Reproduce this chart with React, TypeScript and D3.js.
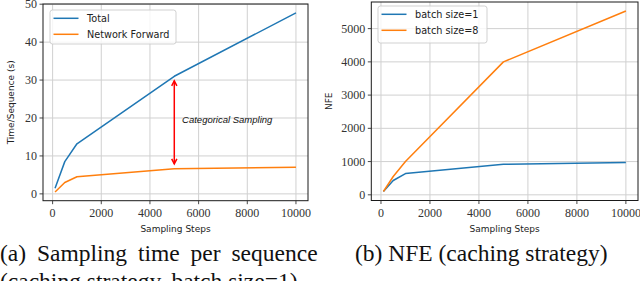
import React from "react";
import * as d3 from "d3";

// ---------- data ----------
const steps = [100, 500, 1000, 5000, 10000];
const totalTime = [1.5, 8.5, 13.2, 31.0, 47.7];
const forwardTime = [0.5, 3.0, 4.5, 6.6, 7.0];
const nfeBatch1 = [100, 430, 640, 920, 970];
const nfeBatch8 = [100, 550, 1000, 4000, 5530];

const xTicks = [0, 2000, 4000, 6000, 8000, 10000];
const yTicksA = [0, 10, 20, 30, 40, 50];
const yTicksB = [0, 1000, 2000, 3000, 4000, 5000];

const arrowX = 5000;
const arrowTop = 29.8;
const arrowBottom = 7.9;
const annotationText = "Categorical Sampling";
const annotationPos = [5320, 19.5];

const legendA = ["Total", "Network Forward"];
const legendB = ["batch size=1", "batch size=8"];
const captionA = ["(a) Sampling time per sequence", "(caching strategy, batch size=1)"];
const captionB = "(b) NFE (caching strategy)";

const C1 = "#1f77b4";
const C2 = "#ff7f0e";
const TICK_FONT = "'Liberation Serif', 'DejaVu Serif', serif";
const SANS = "'DejaVu Sans', sans-serif";

type Series = { values: number[]; color: string; label: string };

function Panel(props: {
  x0: number; x1: number; y0: number; y1: number;
  xDomain: [number, number]; yDomain: [number, number];
  yTicks: number[]; series: Series[]; ylabel: string; ylabelX: number;
  legend: { x: number; y: number; w: number; h: number };
  children?: (x: d3.ScaleLinear<number, number>, y: d3.ScaleLinear<number, number>) => React.ReactNode;
}) {
  const { x0, x1, y0, y1 } = props;
  const x = d3.scaleLinear().domain(props.xDomain).range([x0, x1]);
  const y = d3.scaleLinear().domain(props.yDomain).range([y1, y0]);
  const line = (vals: number[]) =>
    d3.line<number>().x((_, i) => x(steps[i])).y((v) => y(v))(vals) || "";
  const lg = props.legend;
  return (
    <g>
      {/* grid */}
      {xTicks.map((t) => (
        <line key={"gx" + t} x1={x(t)} x2={x(t)} y1={y0} y2={y1} stroke="#d0d0d0" strokeWidth={1} />
      ))}
      {props.yTicks.map((t) => (
        <line key={"gy" + t} x1={x0} x2={x1} y1={y(t)} y2={y(t)} stroke="#d0d0d0" strokeWidth={1} />
      ))}
      {/* series */}
      {props.series.map((s) => (
        <path key={s.label} d={line(s.values)} fill="none" stroke={s.color} strokeWidth={1.5} strokeLinejoin="round" />
      ))}
      {props.children && props.children(x, y)}
      {/* frame */}
      <rect x={x0} y={y0} width={x1 - x0} height={y1 - y0} fill="none" stroke="#1a1a1a" strokeWidth={1} />
      {/* x ticks */}
      {xTicks.map((t) => (
        <g key={"xt" + t}>
          <line x1={x(t)} x2={x(t)} y1={y1} y2={y1 + 3.5} stroke="#333" strokeWidth={0.9} />
          <text x={x(t)} y={y1 + 16.5} textAnchor="middle" fontFamily={TICK_FONT} fontSize={12} fill="#333">
            {t}
          </text>
        </g>
      ))}
      {/* y ticks */}
      {props.yTicks.map((t) => (
        <g key={"yt" + t}>
          <line x1={x0 - 3.5} x2={x0} y1={y(t)} y2={y(t)} stroke="#333" strokeWidth={0.9} />
          <text x={x0 - 6} y={y(t)} dy="0.33em" textAnchor="end" fontFamily={TICK_FONT} fontSize={12} fill="#333">
            {t}
          </text>
        </g>
      ))}
      {/* labels */}
      <text x={(x0 + x1) / 2} y={232} textAnchor="middle" fontFamily={SANS} fontSize={9} fill="#222">
        Sampling Steps
      </text>
      <text
        transform={`translate(${props.ylabelX},${(y0 + y1) / 2}) rotate(-90)`}
        textAnchor="middle" fontFamily={SANS} fontSize={9} fill="#222"
      >
        {props.ylabel}
      </text>
      {/* legend */}
      <rect x={lg.x} y={lg.y} width={lg.w} height={lg.h} rx={2.5} fill="white" fillOpacity={0.8} stroke="#cccccc" strokeWidth={0.9} />
      {props.series.map((s, i) => (
        <g key={"lg" + i}>
          <line x1={lg.x + 3.5} x2={lg.x + 28.5} y1={lg.y + 8.3 + i * 16} y2={lg.y + 8.3 + i * 16} stroke={s.color} strokeWidth={1.5} />
          <text x={lg.x + 37} y={lg.y + 8.3 + i * 16} dy="0.35em" fontFamily={SANS} fontSize={9.7} fill="#222">
            {s.label}
          </text>
        </g>
      ))}
    </g>
  );
}

export default function App() {
  return (
    <svg width={640} height={281} style={{ position: "absolute", left: 0, top: 0, background: "white" }}>
      <rect width={640} height={281} fill="white" />
      <Panel
        x0={43} x1={308} y0={4} y1={200.7}
        xDomain={[-395, 10495]} yDomain={[-1.8, 50.05]}
        yTicks={yTicksA}
        series={[
          { values: totalTime, color: C1, label: legendA[0] },
          { values: forwardTime, color: C2, label: legendA[1] },
        ]}
        ylabel="Time/Sequence (s)" ylabelX={14}
        legend={{ x: 50, y: 10, w: 126, h: 34 }}
      >
        {(x, y) => {
          const ax = x(arrowX);
          const yt = y(arrowTop);
          const yb = y(arrowBottom);
          return (
            <g>
              <line x1={ax} x2={ax} y1={yt} y2={yb} stroke="#ff0000" strokeWidth={1.5} />
              <path d={`M${ax - 2.6},${yt + 5} L${ax},${yt} L${ax + 2.6},${yt + 5}`} fill="none" stroke="#ff0000" strokeWidth={1.5} />
              <path d={`M${ax - 2.6},${yb - 5} L${ax},${yb} L${ax + 2.6},${yb - 5}`} fill="none" stroke="#ff0000" strokeWidth={1.5} />
              <text x={x(annotationPos[0])} y={y(annotationPos[1])} dy="0.35em" fontFamily="'Liberation Sans', Arial, sans-serif" fontStyle="italic" fontSize={9.5} fill="#111">
                {annotationText}
              </text>
            </g>
          );
        }}
      </Panel>
      <Panel
        x0={371.3} x1={638} y0={2} y1={200.5}
        xDomain={[-395, 10495]} yDomain={[-171, 5801]}
        yTicks={yTicksB}
        series={[
          { values: nfeBatch1, color: C1, label: legendB[0] },
          { values: nfeBatch8, color: C2, label: legendB[1] },
        ]}
        ylabel="NFE" ylabelX={332}
        legend={{ x: 378, y: 6, w: 109, h: 37 }}
      />
      <text x={0} y={261} fontFamily="'Liberation Serif', serif" fontSize={23.5} wordSpacing={5} fill="#111">
        {captionA[0]}
      </text>
      <text x={0} y={289} fontFamily="'Liberation Serif', serif" fontSize={23.5} fill="#111">
        {captionA[1]}
      </text>
      <text x={355} y={261} fontFamily="'Liberation Serif', serif" fontSize={23.5} fill="#111">
        {captionB}
      </text>
    </svg>
  );
}
